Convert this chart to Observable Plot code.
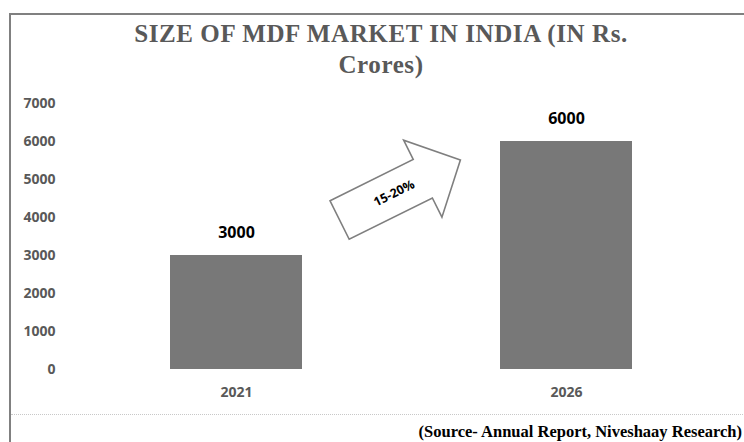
<!DOCTYPE html>
<html>
<head>
<meta charset="utf-8">
<script src="https://cdn.jsdelivr.net/npm/d3@7"></script>
<script src="https://cdn.jsdelivr.net/npm/@observablehq/plot@0.6"></script>
<style>
  html, body { margin: 0; padding: 0; background: #fff; }
  #wrap { position: relative; width: 744px; height: 442px; overflow: hidden; background: #fff; }
  #frame { position: absolute; left: 9px; top: 13px; width: 800px; height: 500px;
           border-left: 2px solid #808080; border-top: 2px solid #808080; box-sizing: border-box; }
  .title { position: absolute; left: 0; width: 762px; text-align: center;
           font-family: "Liberation Serif", "Times New Roman", serif; font-weight: bold;
           font-size: 25px; letter-spacing: 0.6px; color: #595959; white-space: nowrap; line-height: 1; }
  #sep { position: absolute; left: 11px; top: 414px; width: 740px; border-top: 1px dotted #c8c8c8; }
  #caption { position: absolute; right: 2px; top: 424px; font-family: "Liberation Serif", "Times New Roman", serif;
             font-weight: bold; font-size: 16.5px; color: #000; white-space: nowrap; line-height: 1; }
  #chart { position: absolute; left: 0; top: 80px; }
</style>
</head>
<body>
<div id="wrap">
  <div id="frame"></div>
  <div class="title" id="t1" style="top:21px;">SIZE OF MDF MARKET IN INDIA (IN Rs.</div>
  <div class="title" id="t2" style="top:52px;">Crores)</div>
  <div id="chart"></div>
  <div id="sep"></div>
  <div id="caption">(Source- Annual Report, Niveshaay Research)</div>
</div>
<script>
const years = ["2021", "2026"];
const sizes = [3000, 6000];
const yTicks = [0, 1000, 2000, 3000, 4000, 5000, 6000, 7000];
const growthLabel = "15-20%";
// arrow anchors: fraction of gap between bars, and value on the y scale
const arrowTail = [0.19, 3920];
const arrowTip = [0.80, 5500];

const data = years.map((y, i) => ({year: y, size: sizes[i]}));

function growthArrow(index, scales) {
  const {x, y} = scales;
  const bw = x.bandwidth();
  const left = x(years[0]) + bw;
  const gap = x(years[1]) - left;
  const x0 = left + arrowTail[0] * gap, y0 = y(arrowTail[1]);
  const x1 = left + arrowTip[0] * gap, y1 = y(arrowTip[1]);
  const L = Math.hypot(x1 - x0, y1 - y0);
  const ang = Math.atan2(y1 - y0, x1 - x0) * 180 / Math.PI;
  const hw = 21.5, hh = 43, hl = 42;
  const pts = [[0, -hw], [L - hl, -hw], [L - hl, -hh], [L, 0], [L - hl, hh], [L - hl, hw], [0, hw]];
  const g = d3.create("svg:g").attr("transform", `translate(${x0},${y0}) rotate(${ang})`);
  g.append("path")
    .attr("d", "M" + pts.map(p => p.join(",")).join("L") + "Z")
    .attr("fill", "#fff").attr("stroke", "#7f7f7f").attr("stroke-width", 1.6)
    .attr("stroke-linejoin", "miter");
  g.append("text")
    .attr("x", L * 0.45).attr("y", 0)
    .attr("text-anchor", "middle").attr("dy", "0.35em")
    .attr("fill", "#000").attr("font-size", 12.5).attr("font-weight", "bold")
    .text(growthLabel);
  return g.node();
}

const chart = Plot.plot({
  width: 744,
  height: 330,
  marginTop: 23,
  marginBottom: 41,
  marginLeft: 62,
  marginRight: 4,
  style: {fontFamily: "'Open Sans', sans-serif", fontSize: "14px", fontWeight: "bold", color: "#595959", background: "transparent", overflow: "visible"},
  x: {domain: years, paddingInner: 0.6, paddingOuter: 0.327, label: null},
  y: {domain: [0, 7000], label: null},
  marks: [
    Plot.axisY({ticks: yTicks, tickSize: 0, tickPadding: 7, tickFormat: d => String(d), label: null}),
    Plot.axisX({tickSize: 0, tickPadding: 18, label: null}),
    Plot.barY(data, {x: "year", y: "size", fill: "#787878"}),
    Plot.text(data, {x: "year", y: "size", text: d => String(d.size), dy: -23, fill: "#000", fontSize: 16, fontWeight: "bold"}),
    growthArrow
  ]
});
document.getElementById("chart").appendChild(chart);
</script>
</body>
</html>
